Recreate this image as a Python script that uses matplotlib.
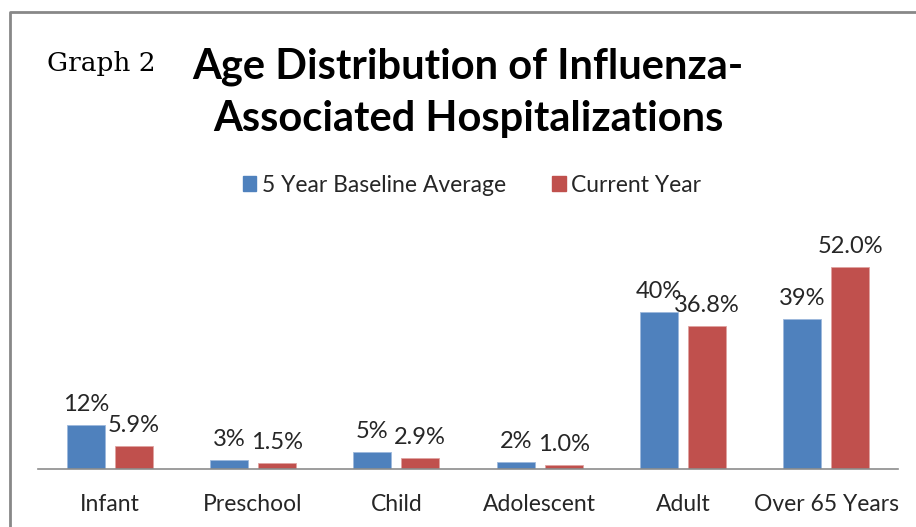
import numpy as np
import matplotlib.pyplot as plt
from matplotlib.lines import Line2D
from matplotlib.patches import Patch

plt.rcParams['font.family'] = ['Lato', 'DejaVu Sans']

categories = ['Infant', 'Preschool', 'Child', 'Adolescent', 'Adult', 'Over 65 Years']
baseline = [11.4, 2.3, 4.4, 1.9, 40.4, 38.6]
baseline_labels = ['12%', '3%', '5%', '2%', '40%', '39%']
current = [5.9, 1.5, 2.9, 1.0, 36.8, 52.0]
current_labels = ['5.9%', '1.5%', '2.9%', '1.0%', '36.8%', '52.0%']

blue = '#4F81BD'
red = '#C0504D'
txt = '#262626'

W, H = 916, 527
fig = plt.figure(figsize=(W / 100, H / 100), dpi=100)
# axes: x 38..898 px, baseline at y=469, top at y=230
ax = fig.add_axes([38 / W, (H - 469) / H, (898 - 38) / W, (469 - 230) / H])

x = np.arange(len(categories))
bw = 0.265
off = 0.167
ax.bar(x - off, baseline, bw, color=blue, edgecolor='#9DB9DC', linewidth=0.6)
ax.bar(x + off, current, bw, color=red, edgecolor='#E0A3A1', linewidth=0.6)

for i in range(len(categories)):
    ax.annotate(baseline_labels[i], (x[i] - off, baseline[i]), xytext=(0, 7),
                textcoords='offset points', ha='center', va='bottom',
                fontsize=17, color=txt)
    ax.annotate(current_labels[i], (x[i] + off, current[i]), xytext=(0, 7),
                textcoords='offset points', ha='center', va='bottom',
                fontsize=17, color=txt)

ax.set_xlim(-0.5, len(categories) - 0.5)
ax.set_ylim(0, 61.5)
ax.set_yticks([])
ax.set_xticks(x)
ax.set_xticklabels(categories, fontsize=16.5, color=txt)
ax.tick_params(axis='x', length=0, pad=18)
for s in ['top', 'right', 'left']:
    ax.spines[s].set_visible(False)
ax.spines['bottom'].set_color('#8C8C8C')
ax.spines['bottom'].set_linewidth(1.2)

# titles
fig.text(47 / W, 1 - 63 / H, 'Graph 2', fontsize=19, family='DejaVu Serif',
         ha='left', va='center')
fig.text(468 / W, 1 - 67 / H, 'Age Distribution of Influenza-', fontsize=30,
         fontweight='bold', ha='center', va='center')
fig.text(468 / W, 1 - 119 / H, 'Associated Hospitalizations', fontsize=30,
         fontweight='bold', ha='center', va='center')

handles = [Patch(color=blue), Patch(color=red)]
fig.legend(handles, ['5 Year Baseline Average', 'Current Year'], loc='center',
           bbox_to_anchor=(472 / W, 1 - 185 / H), ncol=2, frameon=False,
           fontsize=16.5, handlelength=0.6, handleheight=0.6, handletextpad=0.25,
           columnspacing=2.0, labelcolor=txt)

# outer frame (partially cropped)
fig.add_artist(Line2D([10 / W, 10 / W, 1], [0, 1 - 12 / H, 1 - 12 / H],
                      transform=fig.transFigure, color='#888888', linewidth=2))

fig.savefig('out.png', dpi=100)
